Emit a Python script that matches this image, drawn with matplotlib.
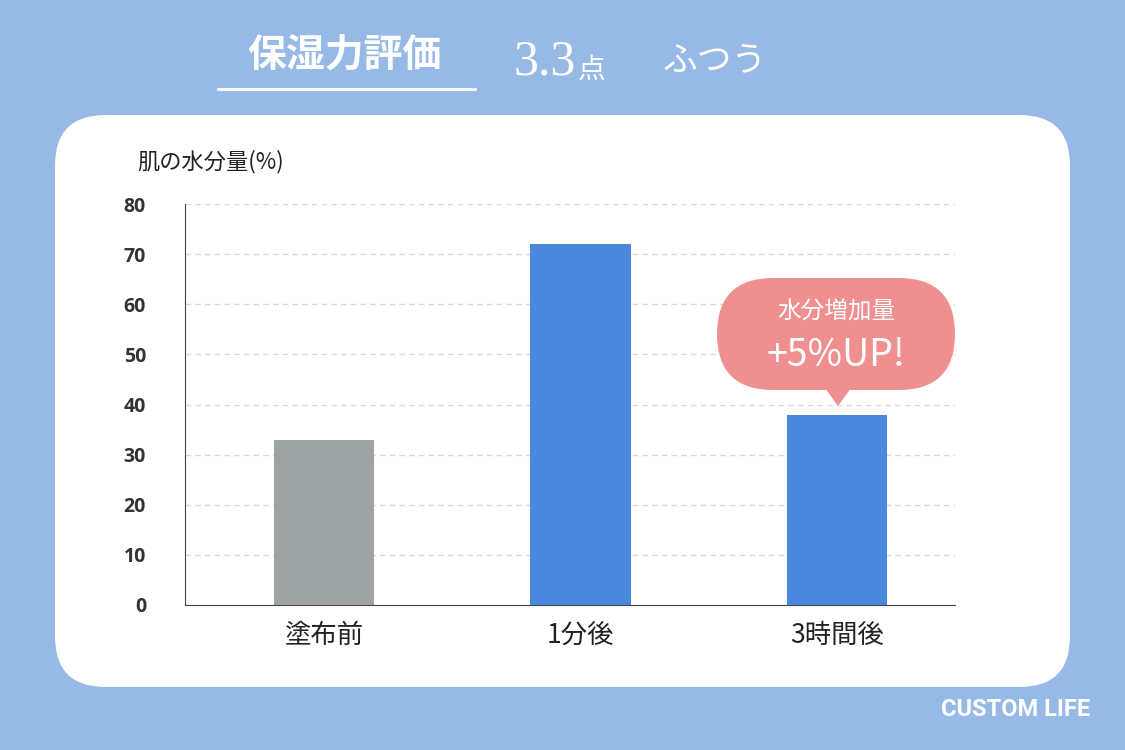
import matplotlib
matplotlib.use("Agg")
import matplotlib.pyplot as plt
from matplotlib.patches import FancyBboxPatch, Polygon

categories = ["塗布前", "1分後", "3時間後"]
values = [33, 72, 38]
colors = ["#9ea4a3", "#4a88de", "#4a88de"]
yticks = [0, 10, 20, 30, 40, 50, 60, 70, 80]

W, H = 1125, 750
fig = plt.figure(figsize=(11.25, 7.5), dpi=100)
fig.patch.set_facecolor("#97b9e6")
jp = "Noto Sans CJK JP"

def fx(x): return x / W
def fy(y): return 1 - y / H

# white panel
panel = FancyBboxPatch((fx(55), fy(687)), fx(1070) - fx(55), fy(115) - fy(687),
                       boxstyle="round,pad=0,rounding_size=0.045", transform=fig.transFigure,
                       facecolor="white", edgecolor="none", mutation_aspect=W / H, zorder=-5)
fig.patches.append(panel)

# title
fig.text(fx(345), fy(55), "保湿力評価", fontfamily=jp, fontweight="bold", fontsize=28,
         color="white", ha="center", va="center")
fig.add_artist(plt.Line2D([fx(218), fx(475)], [fy(89), fy(89)], color="white", lw=2,
                          transform=fig.transFigure))
fig.text(fx(513), fy(62), "3.3", fontfamily="Liberation Serif", fontsize=36, color="white",
         ha="left", va="center")
fig.text(fx(578), fy(70), "点", fontfamily=jp, fontsize=20, color="white", ha="left", va="center")
fig.text(fx(663), fy(62), "ふつう", fontfamily=jp, fontsize=25, color="white", ha="left", va="center")

ax = fig.add_axes([fx(185), fy(605), fx(955) - fx(185), fy(204) - fy(605)])
x = range(len(categories))
ax.bar(x, values, width=0.39, color=colors, zorder=3)
ax.set_xlim(-0.542, 2.46)
ax.set_ylim(0, 80)
ax.set_yticks(yticks)
ax.set_yticklabels([str(t) for t in yticks], fontfamily="Open Sans", fontweight="bold",
                   fontsize=14, color="#333333")
ax.set_xticks(list(x))
ax.set_xticklabels(categories, fontfamily=jp, fontsize=19, color="#222222")
ax.tick_params(axis="both", length=0)
ax.tick_params(axis="y", pad=28)
ax.tick_params(axis="x", pad=12)
for t in yticks[1:]:
    ax.axhline(t, color="#d8d8d8", lw=1, ls=(0, (4, 3)), zorder=1)
for s in ["top", "right"]:
    ax.spines[s].set_visible(False)
ax.spines["left"].set_color("#444444")
ax.spines["bottom"].set_color("#444444")
ax.set_facecolor("none")

fig.text(fx(137), fy(162), "肌の水分量(%)", fontfamily=jp, fontsize=16, color="#222222",
         ha="left", va="center")

# callout bubble
pink = "#f08f8f"
bub = FancyBboxPatch((fx(717), fy(390)), fx(955) - fx(717), fy(278) - fy(390),
                     boxstyle="round,pad=0,rounding_size=0.05", transform=fig.transFigure,
                     facecolor=pink, edgecolor="none", mutation_aspect=W / H, zorder=5)
fig.add_artist(bub)
fig.add_artist(Polygon([(fx(825), fy(388)), (fx(851), fy(388)), (fx(838), fy(406))],
                       closed=True, transform=fig.transFigure, facecolor=pink, edgecolor="none",
                       zorder=5))
fig.text(fx(836), fy(312), "水分増加量", fontfamily=jp, fontsize=17, color="white",
         ha="center", va="center", zorder=6)
fig.text(fx(836), fy(355), "+5%UP!", fontfamily=jp, fontsize=27, color="white",
         ha="center", va="center", zorder=6)

fig.text(fx(1090), fy(710), "CUSTOM LIFE", fontfamily="Roboto", fontweight="bold",
         fontsize=17, color="white", ha="right", va="center")

fig.savefig("out.png", dpi=100, facecolor=fig.get_facecolor())
